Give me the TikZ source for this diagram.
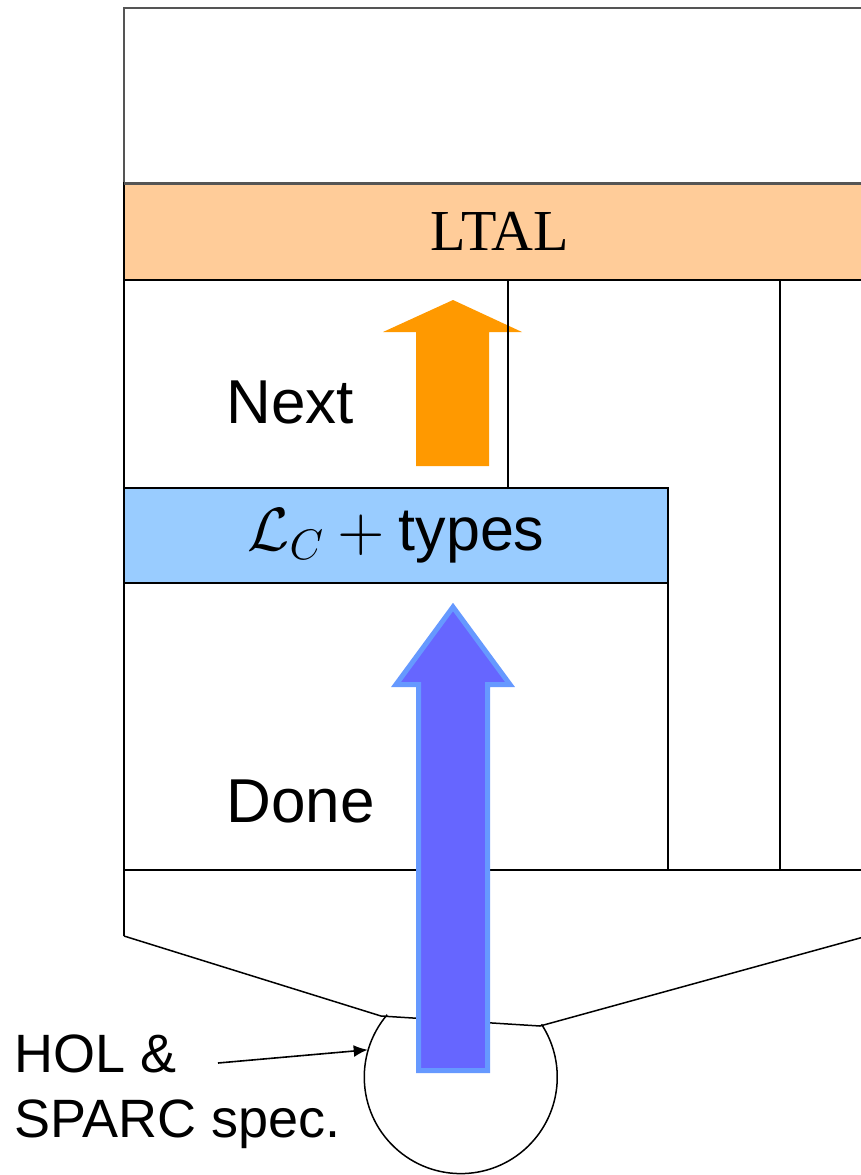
\documentclass[tikz,border=0pt]{standalone}
\usepackage[no-math]{fontspec}
\setmainfont{Liberation Sans}
\newfontfamily\ltalfont{Liberation Serif}
% scalable math fonts for the big layer labels
\DeclareFontShape{OML}{cmm}{m}{it}{<->cmmi10}{}
\DeclareFontShape{OMS}{cmsy}{m}{n}{<->cmsy10}{}
\DeclareFontShape{OT1}{cmr}{m}{n}{<->cmr10}{}
\usetikzlibrary{arrows.meta}
\definecolor{layerPeach}{RGB}{255,204,153}
\definecolor{layerBlue}{RGB}{153,204,255}
\definecolor{stepOrange}{RGB}{255,153,0}
\definecolor{stepViolet}{RGB}{102,102,255}
\definecolor{stepEdge}{RGB}{102,153,255}
\definecolor{shellGray}{RGB}{85,85,85}
\tikzset{
  shell/.style={draw=shellGray, line width=1pt},
  rule/.style={draw=black, line width=1pt},
  outline/.style={draw=black, line width=0.75pt},
  bar/.style={draw=black, line width=1pt, inner sep=0pt, outer sep=0pt},
  stagetext/.style={inner sep=0pt, font=\fontsize{31}{37}\selectfont},
  pointer/.style={-{Latex[length=7pt,width=6pt]}, line width=0.8pt, draw=black}
}
\begin{document}
\begin{tikzpicture}[x=0.5pt,y=-0.5pt]
  \useasboundingbox (0,0) rectangle (861,1175);
  \clip (0,0) rectangle (861,1175);
  % empty top layer
  \draw[shell] (124,183) -- (124,8) -- (890,8);
  % next step
  \fill[stepOrange] (416,466) -- (416,332) -- (383,332) -- (453,300) -- (522,332)
    -- (489,332) -- (489,466) -- cycle;
  % columns under LTAL
  \draw[rule] (508,280) -- (508,488);
  \draw[rule] (780,280) -- (780,870);
  \draw[rule] (668,583) -- (668,870);
  \draw[rule] (124,280) -- (124,936);
  \draw[rule] (124,870) -- (890,870);
  % funnel down to the spec
  \node[circle, inner sep=0pt, outer sep=0pt, minimum size=96.5pt] (spec) at (460,1078) {};
  \draw[outline] (124,936) -- (381,1016) -- (540,1026) -- (900,927);
  \draw[outline] (spec.139.7) arc[start angle=139.7, end angle=393.2, radius=48.25pt];
  \node[bar, fill=layerPeach, minimum width=376pt, minimum height=48.5pt,
    font=\ltalfont\fontsize{29}{33}\selectfont] (ltal) at (500,231.5) {LTAL};
  \draw[line width=1.5pt, draw=shellGray] (124,183) -- (890,183);
  \node[bar, fill=layerBlue, minimum width=272pt, minimum height=47.5pt,
    font=\fontsize{30.5}{36}\selectfont] (lc) at (396,535.5) {$\mathcal{L}_C+{}$types};
  % done part
  \draw[draw=stepEdge, fill=stepViolet, line width=2.5pt, miter limit=10]
    (418.5,1070.5) -- (418.5,684.5) -- (396,684.5) -- (453,607) -- (510,684.5)
    -- (487.5,684.5) -- (487.5,1070.5) -- cycle;
  \node[stagetext] (next) at (290,402.5) {Next};
  \node[stagetext] (done) at (300.5,801.5) {Done};
  \node[anchor=west, align=left, inner sep=0pt, font=\fontsize{27}{32.5}\selectfont]
    (hol) at (14,1092) {HOL \&\\SPARC spec.};
  \coordinate (holtail) at (218,1063);
  \draw[pointer] (holtail) -- (spec.163);
\end{tikzpicture}
\end{document}
